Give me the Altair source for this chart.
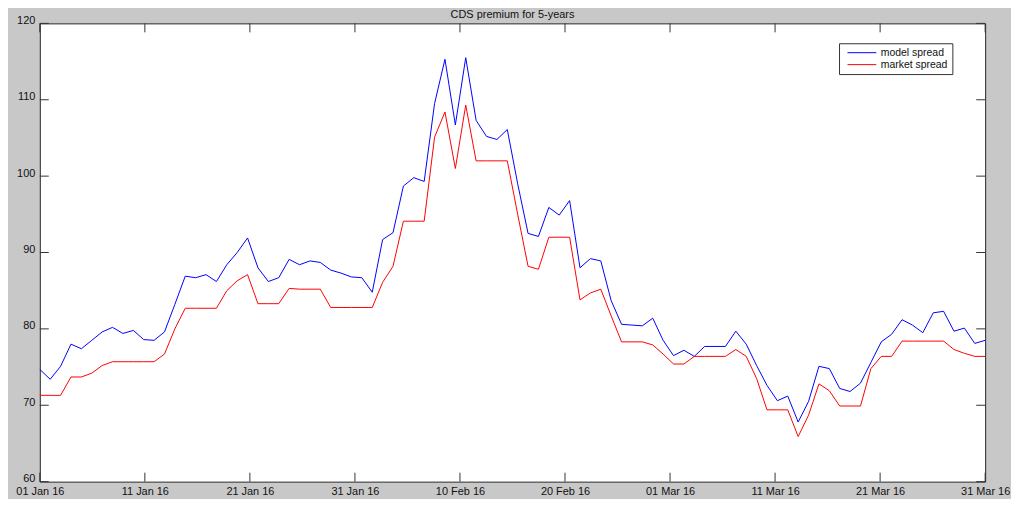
import altair as alt
import pandas as pd

# ---- data ----
model_spread = [
    74.7, 73.4, 75.1, 78.0, 77.4, 78.5, 79.6, 80.2, 79.4, 79.8,
    78.6, 78.5, 79.6, 83.2, 86.9, 86.7, 87.1, 86.2, 88.4, 90.0,
    91.9, 88.0, 86.2, 86.7, 89.1, 88.4, 88.9, 88.7, 87.7, 87.3,
    86.8, 86.7, 84.8, 91.7, 92.6, 98.7, 99.8, 99.3, 109.5, 115.3,
    106.7, 115.5, 107.3, 105.2, 104.8, 106.1, 99.0, 92.5, 92.1, 95.9,
    94.9, 96.8, 88.0, 89.2, 88.9, 83.7, 80.6, 80.5, 80.4, 81.4,
    78.5, 76.5, 77.2, 76.4, 77.7, 77.7, 77.7, 79.7, 78.0, 75.2,
    72.6, 70.6, 71.2, 67.8, 70.5, 75.1, 74.8, 72.2, 71.8, 72.9,
    75.6, 78.3, 79.3, 81.2, 80.5, 79.5, 82.1, 82.3, 79.7, 80.1,
    78.1, 78.5,
]
market_spread = [
    71.3, 71.3, 71.3, 73.7, 73.7, 74.2, 75.2, 75.7, 75.7, 75.7,
    75.7, 75.7, 76.7, 80.0, 82.7, 82.7, 82.7, 82.7, 85.0, 86.3,
    87.1, 83.3, 83.3, 83.3, 85.3, 85.2, 85.2, 85.2, 82.8, 82.8,
    82.8, 82.8, 82.8, 86.1, 88.2, 94.1, 94.1, 94.1, 105.1, 108.4,
    101.0, 109.3, 102.0, 102.0, 102.0, 102.0, 95.0, 88.2, 87.8, 92.0,
    92.0, 92.0, 83.8, 84.7, 85.2, 81.7, 78.3, 78.3, 78.3, 77.9,
    76.7, 75.4, 75.4, 76.4, 76.4, 76.4, 76.4, 77.3, 76.4, 73.5,
    69.4, 69.4, 69.4, 65.9, 68.7, 72.8, 71.9, 69.9, 69.9, 69.9,
    74.8, 76.4, 76.4, 78.4, 78.4, 78.4, 78.4, 78.4, 77.3, 76.8,
    76.4, 76.4,
]
series_names = ["model spread", "market spread"]
series_colors = ["#0000ff", "#ff0000"]
x_tick_dates = ["2016-01-01", "2016-01-11", "2016-01-21", "2016-01-31", "2016-02-10",
                "2016-02-20", "2016-03-01", "2016-03-11", "2016-03-21", "2016-03-31"]
y_tick_values = [60, 70, 80, 90, 100, 110, 120]

# observation times: evenly spread over the window
times = pd.date_range("2016-01-01", "2016-03-31", periods=len(model_spread))
time_str = [t.strftime("%Y-%m-%dT%H:%M:%S") for t in times]

df = pd.DataFrame({
    "date": time_str * 2,
    "value": model_spread + market_spread,
    "series": [series_names[0]] * len(model_spread) + [series_names[1]] * len(market_spread),
})
xt = pd.DataFrame({"date": [d + "T00:00:00" for d in x_tick_dates]})
yt = pd.DataFrame({"v": y_tick_values})

W, H = 951, 461
TL = 9
FONT = "Liberation Sans, Arial, sans-serif"

def dt(s):
    y, m, d = map(int, s.split("-"))
    return alt.DateTime(year=y, month=m, date=d)

xscale = alt.Scale(domain=[dt(x_tick_dates[0]), dt(x_tick_dates[-1])], nice=False)
yscale = alt.Scale(domain=[60, 120], nice=False, zero=False)

lines = alt.Chart(df).mark_line(strokeWidth=1).encode(
    x=alt.X("date:T", scale=xscale,
            axis=alt.Axis(values=[dt(s) for s in x_tick_dates], format="%d %b %y",
                          tickSize=0, domain=False, grid=False, title=None,
                          labelPadding=4, labelFlush=False, labelOverlap=False,
                          labelFontSize=11, labelFont=FONT, labelColor="#111")),
    y=alt.Y("value:Q", scale=yscale,
            axis=alt.Axis(values=y_tick_values, tickSize=0, domain=False, grid=False,
                          title=None, labelPadding=5, labelFontSize=11, labelFont=FONT,
                          labelColor="#111", labelFlush=False, labelOverlap=False,
                          labelOffset=-3)),
    color=alt.Color("series:N",
                    scale=alt.Scale(domain=series_names, range=series_colors),
                    sort=series_names,
                    legend=alt.Legend(orient="none", legendX=804, legendY=20, title=None,
                                      symbolType="M-0.2,0H5.6", symbolSize=100,
                                      symbolStrokeWidth=1, labelOffset=27,
                                      labelFontSize=10.5, labelFont=FONT, labelColor="#111",
                                      padding=4, rowPadding=1,
                                      strokeColor="#333", fillColor="white")),
)

tick_style = dict(color="#333", strokeWidth=1)
xb = alt.Chart(xt).mark_rule(**tick_style).encode(
    x=alt.X("date:T", scale=xscale), y=alt.value(H), y2=alt.value(H - TL))
xtop = alt.Chart(xt).mark_rule(**tick_style).encode(
    x=alt.X("date:T", scale=xscale), y=alt.value(0), y2=alt.value(TL))
yl = alt.Chart(yt).mark_rule(**tick_style).encode(
    y=alt.Y("v:Q", scale=yscale), x=alt.value(0), x2=alt.value(TL))
yr = alt.Chart(yt).mark_rule(**tick_style).encode(
    y=alt.Y("v:Q", scale=yscale), x=alt.value(W), x2=alt.value(W - TL))

chart = alt.layer(xb, xtop, yl, yr, lines).properties(
    width=W, height=H,
    title=alt.Title("CDS premium for 5-years", fontSize=11, font=FONT,
                    fontWeight="normal", color="#111", offset=2, dy=8,
                    anchor="middle"),
    autosize=alt.AutoSizeParams(type="none"),
    padding={"left": 32, "top": 14, "right": 26, "bottom": 16},
).configure(background="#c8c8c8").configure_view(
    fill="white", stroke="#262626", strokeWidth=1
)

chart.save("out.html", embed_options={"renderer": "svg", "actions": False})
